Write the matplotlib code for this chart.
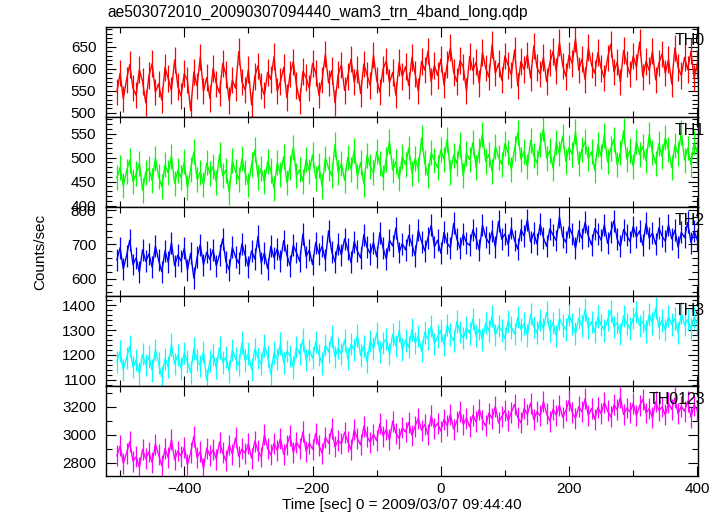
"""Stacked WAM light curves (TH0..TH3 and sum) in QDP style."""

import matplotlib

matplotlib.use("Agg")

import matplotlib.pyplot as plt
import numpy as np
from matplotlib.ticker import MultipleLocator

plt.rcParams["font.family"] = ["Liberation Sans", "DejaVu Sans"]

TITLE = "ae503072010_20090307094440_wam3_trn_4band_long.qdp"
X_LABEL = "Time [sec] 0 = 2009/03/07 09:44:40"
Y_LABEL = "Counts/sec"

# time bins: start and width in seconds
T_START = -505.0
T_BIN = 5.0

band_names = ["TH0", "TH1", "TH2", "TH3", "TH0123"]
band_colors = ["#ff0000", "#00ff00", "#0000ff", "#00ffff", "#ff00ff"]
# typical 1-sigma error bar of one bin, counts/sec
band_errors = [30, 26, 32, 45, 75]

th0_rate = [
    548, 590, 532, 575, 610, 556, 540, 598, 571, 523,
    585, 612, 547, 566, 529, 603, 578, 551, 620, 560,
    538, 589, 574, 505, 593, 561, 627, 549, 580, 533,
    601, 566, 545, 612, 587, 528, 574, 556, 639, 570,
    552, 598, 518, 583, 607, 561, 540, 592, 576, 628,
    549, 571, 603, 535, 588, 616, 562, 527, 594, 580,
    556, 612, 591, 540, 575, 633, 568, 596, 523, 587,
    609, 551, 583, 622, 570, 598, 544, 611, 586, 562,
    631, 575, 547, 600, 618, 569, 592, 540, 614, 583,
    605, 562, 626, 588, 549, 617, 597, 640, 571, 608,
    585, 622, 563, 610, 648, 592, 571, 619, 604, 550,
    628, 596, 615, 567, 637, 602, 581, 655, 590, 612,
    574, 629, 608, 586, 643, 561, 617, 598, 632, 579,
    652, 603, 588, 626, 571, 614, 639, 595, 660, 607,
    583, 631, 612, 668, 597, 622, 575, 648, 609, 590,
    637, 601, 579, 624, 656, 593, 615, 570, 642, 611,
    588, 629, 604, 661, 582, 617, 596, 640, 575, 613,
    634, 590, 621, 566, 647, 603, 585, 626, 598, 640, 579, 612,
]

th1_rate = [
    458, 480, 441, 472, 495, 450, 466, 488, 432, 470,
    477, 452, 499, 461, 440, 485, 468, 503, 447, 474,
    459, 491, 437, 476, 512, 455, 470, 444, 489, 466,
    481, 449, 507, 462, 474, 428, 493, 471, 455, 498,
    468, 443, 486, 516, 459, 477, 450, 492, 473, 436,
    489, 465, 502, 448, 480, 521, 462, 475, 451, 496,
    472, 506, 457, 484, 440, 499, 478, 462, 527, 469,
    487, 453, 501, 476, 515, 461, 490, 445, 505, 481,
    468, 512, 488, 459, 497, 533, 474, 492, 456, 503,
    485, 520, 467, 498, 476, 541, 489, 462, 510, 494,
    479, 516, 497, 538, 470, 505, 488, 527, 462, 508,
    496, 531, 480, 514, 549, 492, 507, 471, 523, 501,
    486, 529, 510, 475, 518, 552, 497, 513, 481, 536,
    504, 489, 527, 560, 499, 515, 478, 531, 508, 545,
    492, 521, 506, 554, 487, 517, 533, 498, 512, 474,
    528, 503, 547, 491, 519, 538, 485, 510, 556, 497,
    515, 482, 534, 506, 523, 493, 548, 511, 488, 529,
    502, 541, 517, 479, 526, 508, 553, 495, 520, 486, 531, 510,
]

th2_rate = [
    655, 690, 628, 667, 712, 641, 660, 618, 684, 650,
    672, 633, 695, 654, 620, 681, 647, 705, 638, 669,
    651, 688, 625, 674, 601, 662, 699, 640, 677, 656,
    684, 637, 670, 716, 649, 626, 691, 663, 645, 702,
    668, 634, 681, 657, 723, 646, 675, 629, 694, 661,
    687, 652, 711, 669, 638, 697, 676, 650, 730, 664,
    683, 641, 705, 672, 694, 655, 739, 678, 649, 701,
    669, 716, 686, 647, 708, 680, 660, 728, 691, 673,
    705, 664, 734, 689, 658, 712, 695, 748, 676, 702,
    684, 726, 699, 667, 741, 708, 681, 719, 755, 693,
    712, 674, 735, 703, 690, 761, 716, 688, 729, 705,
    697, 742, 718, 683, 756, 721, 704, 738, 692, 767,
    715, 730, 699, 748, 711, 686, 743, 724, 772, 707,
    733, 701, 759, 719, 694, 745, 727, 711, 780, 722,
    706, 751, 729, 688, 740, 717, 764, 725, 698, 746,
    731, 712, 757, 703, 736, 769, 715, 694, 743, 726,
    708, 752, 721, 739, 697, 761, 718, 733, 700, 748,
    724, 709, 757, 716, 741, 692, 735, 720, 764, 705, 738, 713,
]

th3_rate = [
    1172, 1215, 1140, 1188, 1236, 1151, 1179, 1125, 1203, 1160,
    1194, 1137, 1221, 1168, 1110, 1185, 1152, 1242, 1163, 1199,
    1145, 1208, 1173, 1129, 1226, 1180, 1156, 1213, 1098, 1175,
    1201, 1148, 1230, 1170, 1192, 1133, 1219, 1186, 1159, 1250,
    1177, 1206, 1141, 1224, 1189, 1163, 1238, 1195, 1122, 1210,
    1183, 1246, 1168, 1215, 1197, 1150, 1231, 1204, 1262, 1179,
    1220, 1187, 1253, 1201, 1166, 1239, 1212, 1275, 1193, 1228,
    1205, 1261, 1184, 1243, 1219, 1279, 1198, 1236, 1172, 1257,
    1226, 1289, 1211, 1248, 1264, 1203, 1283, 1237, 1296, 1222,
    1258, 1231, 1302, 1249, 1277, 1215, 1291, 1263, 1316, 1245,
    1274, 1298, 1240, 1321, 1283, 1257, 1335, 1292, 1268, 1310,
    1287, 1344, 1276, 1305, 1262, 1329, 1297, 1358, 1281, 1318,
    1299, 1266, 1337, 1310, 1285, 1352, 1303, 1327, 1279, 1364,
    1313, 1291, 1340, 1305, 1372, 1298, 1329, 1276, 1346, 1319,
    1302, 1361, 1325, 1287, 1348, 1316, 1383, 1309, 1334, 1292,
    1355, 1321, 1299, 1342, 1377, 1313, 1330, 1284, 1358, 1326,
    1306, 1349, 1372, 1318, 1335, 1294, 1363, 1327, 1390, 1311,
    1339, 1301, 1356, 1323, 1347, 1289, 1368, 1320, 1342, 1305, 1351, 1327,
]

th0123_rate = [
    2850, 2920, 2795, 2868, 2951, 2812, 2843, 2766, 2895, 2829,
    2877, 2801, 2933, 2858, 2779, 2902, 2836, 2965, 2821, 2884,
    2847, 2912, 2788, 2870, 2990, 2835, 2881, 2760, 2905, 2852,
    2893, 2826, 2948, 2871, 2815, 2927, 2862, 2978, 2845, 2899,
    2868, 2936, 2832, 2955, 2887, 2841, 3002, 2903, 2856, 2940,
    2889, 2975, 2861, 2927, 2996, 2873, 2948, 2904, 3021, 2882,
    2941, 2897, 3010, 2925, 2868, 2983, 2939, 3045, 2913, 2962,
    2935, 3018, 2951, 2894, 3036, 2972, 2928, 3061, 2987, 2946,
    3003, 2958, 3079, 2991, 3040, 2963, 3098, 3012, 2975, 3051,
    3020, 3088, 2996, 3062, 3119, 3031, 3074, 3002, 3135, 3048,
    3083, 3027, 3112, 3066, 3148, 3041, 3097, 3169, 3075, 3120,
    3058, 3141, 3092, 3183, 3106, 3064, 3155, 3117, 3203, 3086,
    3130, 3174, 3101, 3162, 3218, 3123, 3087, 3190, 3146, 3227,
    3109, 3166, 3135, 3238, 3152, 3098, 3184, 3141, 3212, 3127,
    3173, 3246, 3158, 3119, 3201, 3164, 3257, 3139, 3188, 3112,
    3196, 3150, 3233, 3172, 3129, 3215, 3181, 3269, 3145, 3192,
    3163, 3224, 3137, 3208, 3253, 3156, 3187, 3121, 3236, 3175,
    3199, 3142, 3228, 3181, 3264, 3150, 3205, 3168, 3241, 3126, 3213, 3174,
]

band_rates = [th0_rate, th1_rate, th2_rate, th3_rate, th0123_rate]

# axis ranges and tick spacing per panel (major, minor)
y_limits = [(491, 695), (398, 585), (548, 810), (1074, 1436), (2705, 3348)]
y_ticks = [(50, 10), (50, 10), (100, 20), (100, 20), (200, 100)]
x_limits = (-522, 401)

fig = plt.figure(figsize=(7.24, 5.16), dpi=100)
left, right = 106 / 724, 698 / 724
top, bottom = 1 - 27 / 516, 1 - 476 / 516
panel_h = (top - bottom) / len(band_names)

axes = []
for i, (name, color, rate) in enumerate(zip(band_names, band_colors, band_rates)):
    ax = fig.add_axes([left, top - (i + 1) * panel_h, right - left, panel_h])
    rate = np.asarray(rate, dtype=float)
    t = T_START + T_BIN * np.arange(len(rate))
    ax.errorbar(t, rate, yerr=band_errors[i], color=color, lw=1.0,
                elinewidth=0.9, capsize=0)
    ax.set_xlim(*x_limits)
    ax.set_ylim(*y_limits[i])
    ax.xaxis.set_major_locator(MultipleLocator(200))
    ax.xaxis.set_minor_locator(MultipleLocator(100))
    ax.yaxis.set_major_locator(MultipleLocator(y_ticks[i][0]))
    ax.yaxis.set_minor_locator(MultipleLocator(y_ticks[i][1]))
    ax.tick_params(which="both", direction="in", top=True, right=True, colors="black",
                   labelsize=11, width=0.8)
    ax.tick_params(which="major", length=7)
    ax.tick_params(which="minor", length=4)
    ax.tick_params(axis="y", pad=7)
    ax.tick_params(axis="x", pad=4)
    for spine in ax.spines.values():
        spine.set_linewidth(1.0)
    if i < len(band_names) - 1:
        ax.tick_params(labelbottom=False)
    ax.text(1.012, 0.93, name, transform=ax.transAxes, ha="right", va="top",
            fontsize=11.5)
    axes.append(ax)

axes[-1].set_xlabel(X_LABEL, fontsize=11, labelpad=2)
fig.text(left + 0.002, 1 - 12 / 516, TITLE, ha="left", va="center", fontsize=11.2)
fig.text(40 / 724, (top + bottom) / 2, Y_LABEL, rotation=90, ha="center", va="center",
         fontsize=11)

fig.savefig("out.png", dpi=100)
plt.close(fig)
